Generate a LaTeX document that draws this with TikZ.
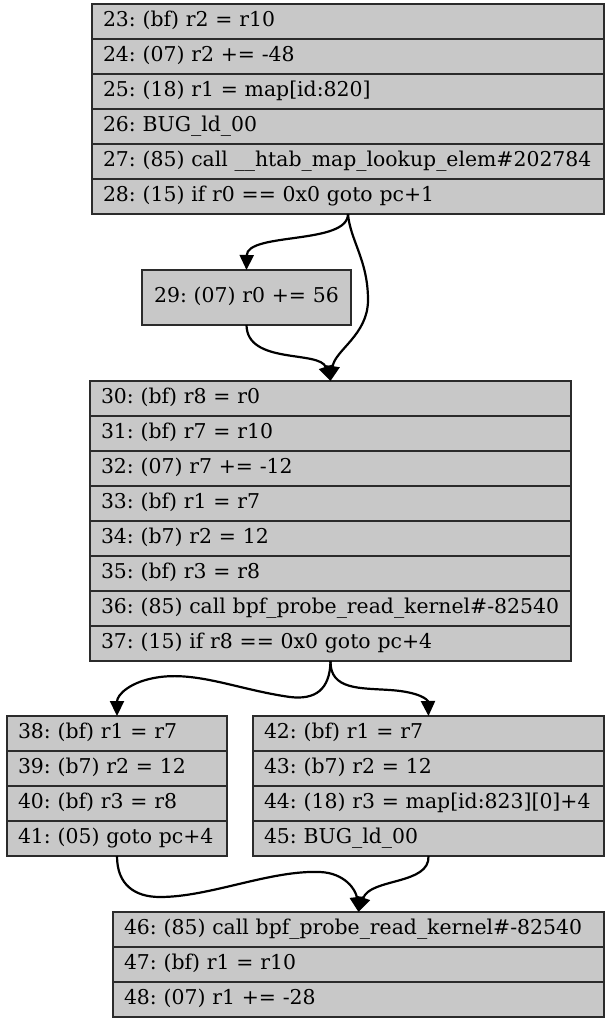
\documentclass[tikz,border=0pt]{standalone}
\usepackage{fontspec}
\setmainfont{DejaVu Serif}
\usetikzlibrary{arrows.meta}
\definecolor{cellgray}{HTML}{C8C8C8}
\definecolor{cellline}{HTML}{2B2B2B}
\begin{document}
\frenchspacing
\begin{tikzpicture}[x=1pt,y=-1pt,
  cell/.style={draw=cellline, fill=cellgray, line width=1.5pt, anchor=north west,
    outer sep=0pt, inner xsep=11pt, inner ysep=0pt, minimum height=35pt, align=left,
    text height=14.5pt, text depth=4.5pt, font=\fontsize{20.4}{24}\selectfont},
  cellA/.style={cell, text width=490pt},
  cellB/.style={cell, text width=187pt, minimum height=55pt, align=center},
  cellC/.style={cell, text width=459pt},
  cellD/.style={cell, text width=198pt},
  cellE/.style={cell, text width=329pt},
  cellF/.style={cell, text width=469pt},
  flow/.style={line width=2.2pt, -{Triangle[length=15pt,width=14pt]}}]
\useasboundingbox (0,0) rectangle (612,1024);
\fill[white] (0,0) rectangle (612,1024);

% block 23-28
\node[cellA] (a1) at (92,4) {23: (bf) r2 = r10};
\node[cellA] (a2) at (a1.south west) {24: (07) r2 += -48};
\node[cellA] (a3) at (a2.south west) {25: (18) r1 = map[id:820]};
\node[cellA] (a4) at (a3.south west) {26: BUG\_ld\_00};
\node[cellA] (a5) at (a4.south west) {27: (85) call \_\_htab\_map\_lookup\_elem\#202784};
\node[cellA] (a6) at (a5.south west) {28: (15) if r0 == 0x0 goto pc+1};

% block 29
\node[cellB] (b) at (142,270) {29: (07) r0 += 56};

% block 30-37
\node[cellC] (c1) at (90,381) {30: (bf) r8 = r0};
\node[cellC] (c2) at (c1.south west) {31: (bf) r7 = r10};
\node[cellC] (c3) at (c2.south west) {32: (07) r7 += -12};
\node[cellC] (c4) at (c3.south west) {33: (bf) r1 = r7};
\node[cellC] (c5) at (c4.south west) {34: (b7) r2 = 12};
\node[cellC] (c6) at (c5.south west) {35: (bf) r3 = r8};
\node[cellC] (c7) at (c6.south west) {36: (85) call bpf\_probe\_read\_kernel\#-82540};
\node[cellC] (c8) at (c7.south west) {37: (15) if r8 == 0x0 goto pc+4};

% block 38-41
\node[cellD] (d1) at (7,716) {38: (bf) r1 = r7};
\node[cellD] (d2) at (d1.south west) {39: (b7) r2 = 12};
\node[cellD] (d3) at (d2.south west) {40: (bf) r3 = r8};
\node[cellD] (d4) at (d3.south west) {41: (05) goto pc+4};

% block 42-45
\node[cellE] (e1) at (253,716) {42: (bf) r1 = r7};
\node[cellE] (e2) at (e1.south west) {43: (b7) r2 = 12};
\node[cellE] (e3) at (e2.south west) {44: (18) r3 = map[id:823][0]+4};
\node[cellE] (e4) at (e3.south west) {45: BUG\_ld\_00};

% block 46-48
\node[cellF] (f1) at (113,912) {46: (85) call bpf\_probe\_read\_kernel\#-82540};
\node[cellF] (f2) at (f1.south west) {47: (bf) r1 = r10};
\node[cellF] (f3) at (f2.south west) {48: (07) r1 += -28};

% control flow
\draw[flow] (a6.south) .. controls (348,245) and (247,232) .. (b.north);
\draw[flow] (a6.south) .. controls (350,240) and (368,260) .. (368,300)
  .. controls (368,335) and (335,350) .. (c1.north);
\draw[flow] (b.south) .. controls (247,365) and (320,350) .. (c1.north);
\draw[flow] (c8.south) .. controls (330,690) and (315,700) .. (290,697)
  .. controls (240,690) and (200,672) .. (160,677)
  .. controls (130,681) and (117,695) .. (d1.north);
\draw[flow] (c8.south) .. controls (330,690) and (360,688) .. (390,690)
  .. controls (420,692) and (428,700) .. (e1.north);
\draw[flow] (d4.south) .. controls (117,885) and (135,897) .. (160,897)
  .. controls (210,897) and (270,870) .. (320,872)
  .. controls (345,873) and (356,890) .. (f1.north);
\draw[flow] (e4.south) .. controls (430,885) and (370,878) .. (f1.north);
\end{tikzpicture}
\end{document}
